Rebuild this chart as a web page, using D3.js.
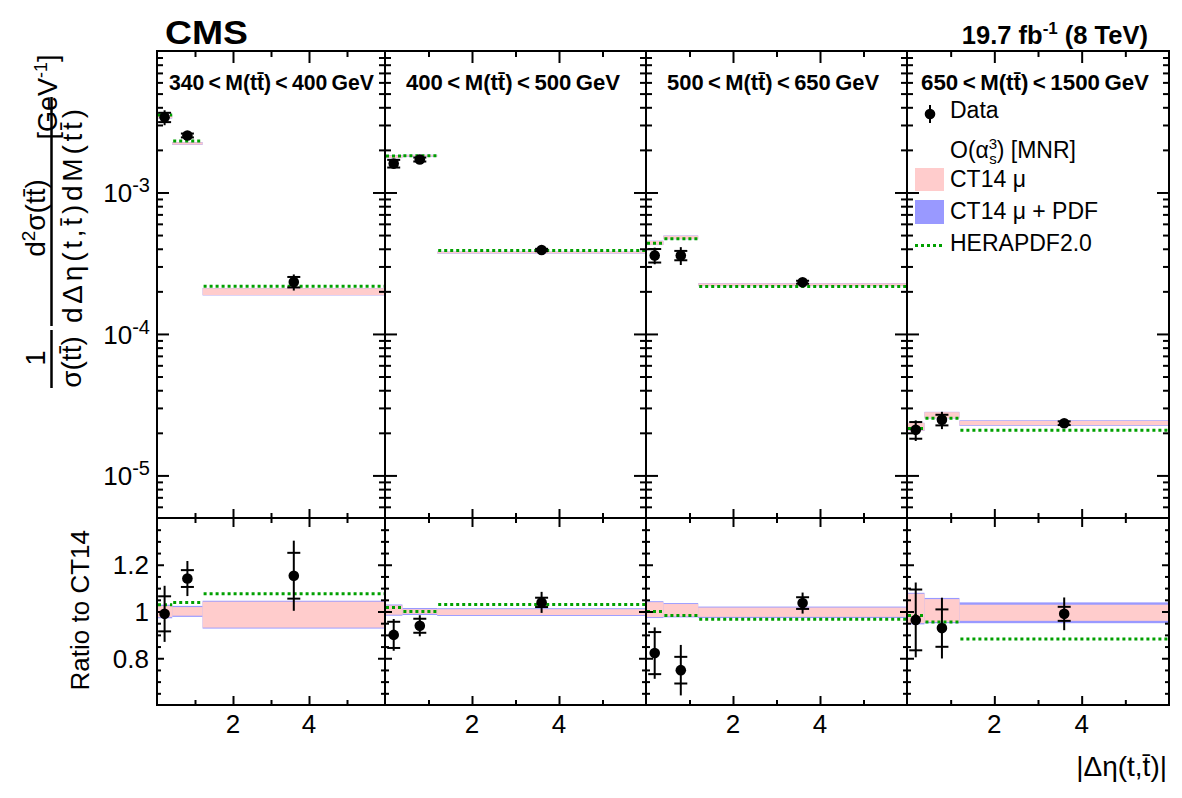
<!DOCTYPE html>
<html lang="en">
<head>
<meta charset="UTF-8">
<title>CMS double differential</title>
<style>
  body { margin: 0; background: #fff; }
  svg text { font-family: "Liberation Sans", Arial, Helvetica, sans-serif; fill: #000; }
</style>
</head>
<body>
<svg id="svg" width="1182" height="798"></svg>
<script src="https://d3js.org/d3.v7.min.js"></script>
<script>
// |Δη(t,t̄)| binning
const etaEdges = [0, 0.4, 1.2, 6]
const etaCenters = [0.2, 0.8, 3.6]

// M(tt̄) bins, one per panel
const massLow = ['340', '400', '500', '650']
const massHigh = ['400', '500', '650', '1500']

// CT14 central prediction (GeV^-1)
const ct14Central = [
  [3.43e-3, 2.22e-3, 2.02e-4],
  [1.78e-3, 1.82e-3, 3.77e-4],
  [4.37e-4, 4.79e-4, 2.24e-4],
  [2.18e-5, 2.66e-5, 2.36e-5]
]
// scale band (ratio to CT14)
const scaleLo = [[0.976, 0.982, 0.931], [0.986, 0.990, 0.985], [0.976, 0.979, 0.977], [0.950, 0.955, 0.960]]
const scaleHi = [[1.024, 1.019, 1.042], [1.026, 1.010, 1.010], [1.040, 1.032, 1.017], [1.076, 1.053, 1.029]]
// scale + PDF band (ratio to CT14)
const pdfLo = [[0.971, 0.977, 0.927], [0.982, 0.985, 0.981], [0.972, 0.975, 0.972], [0.945, 0.950, 0.950]]
const pdfHi = [[1.029, 1.024, 1.046], [1.030, 1.015, 1.014], [1.044, 1.036, 1.021], [1.080, 1.058, 1.039]]
// HERAPDF2.0 (ratio to CT14)
const heraRatio = [[1.029, 1.039, 1.076], [1.017, 1.000, 1.030], [1.000, 0.983, 0.967], [0.983, 0.955, 0.882]]

// measured cross sections
const dataXsec = [
  [3.40e-3, 2.53e-3, 2.33e-4],
  [1.60e-3, 1.71e-3, 3.92e-4],
  [3.59e-4, 3.59e-4, 2.32e-4],
  [2.10e-5, 2.47e-5, 2.34e-5]
]
const dataRatio = [[0.990, 1.141, 1.153], [0.900, 0.939, 1.039], [0.822, 0.749, 1.036], [0.964, 0.929, 0.990]]
const dataStat = [[0.075, 0.036, 0.098], [0.056, 0.030, 0.020], [0.090, 0.057, 0.025], [0.130, 0.080, 0.030]]
const dataTotal = [[0.120, 0.075, 0.150], [0.068, 0.045, 0.045], [0.110, 0.108, 0.045], [0.160, 0.130, 0.070]]

const xTicksMajor = [2, 4]
const xTicksMinor = [1, 3, 5]
const logLabels = [[1e-3, '-3'], [1e-4, '-4'], [1e-5, '-5']]
const ratioLabels = [[1.2, '1.2'], [1, '1'], [0.8, '0.8']]

// layout
const panelX = [157, 385, 646, 907, 1169]
const padTop = 51, padSplit = 518, padBottom = 705
const PINK = '#ffcccc', BLUE = '#9999ff', GREEN = '#00a000'

const svg = d3.select('#svg')

const yLog = d3.scaleLog().domain([5e-6, 1e-2]).range([padSplit, padTop])
const yRat = d3.scaleLinear().domain([0.6, 1.4]).range([padBottom, padSplit])

// tick positions
const logMajor = [1e-5, 1e-4, 1e-3]
const logMinor = []
for (let d = -6; d <= -3; d++) {
  for (let m = 2; m <= 9; m++) {
    const v = m * Math.pow(10, d)
    if (v >= 5e-6 && v < 1e-2) logMinor.push(v)
  }
}
const ratMajor = [0.8, 1.0, 1.2]
const ratMinor = d3.range(13, 28).map(k => k * 0.05).filter(v => ![0.8, 1.0, 1.2].some(m => Math.abs(m - v) < 1e-6))

function tickSet(g, axisFn, scale, values, size, tx, ty) {
  g.append('g')
    .attr('transform', `translate(${tx},${ty})`)
    .call(axisFn(scale).tickValues(values).tickSize(size).tickFormat(''))
    .call(s => s.select('.domain').remove())
    .selectAll('line').attr('stroke', '#000').attr('stroke-width', 2)
}

function drawBands(g, x, ys, lo, hi, color, scaleBy) {
  g.selectAll(null)
    .data(d3.range(3))
    .enter()
    .append('rect')
    .attr('x', i => x(etaEdges[i]))
    .attr('width', i => x(etaEdges[i + 1]) - x(etaEdges[i]))
    .attr('y', i => ys(hi[i] * scaleBy[i]))
    .attr('height', i => ys(lo[i] * scaleBy[i]) - ys(hi[i] * scaleBy[i]))
    .attr('fill', color)
}

function drawHera(g, x, ys, vals, scaleBy) {
  g.selectAll(null)
    .data(d3.range(3))
    .enter()
    .append('line')
    .attr('x1', i => x(etaEdges[i]) + 1)
    .attr('x2', i => x(etaEdges[i + 1]))
    .attr('y1', i => ys(vals[i] * scaleBy[i]))
    .attr('y2', i => ys(vals[i] * scaleBy[i]))
    .attr('stroke', GREEN)
    .attr('stroke-width', 3)
    .attr('stroke-dasharray', '3,3')
}

function drawData(g, x, ys, val, stat, tot) {
  const pts = d3.range(3).map(i => ({
    x: x(etaCenters[i]), v: val[i],
    sLo: val[i] - stat[i], sHi: val[i] + stat[i],
    tLo: val[i] - tot[i], tHi: val[i] + tot[i]
  }))
  g.selectAll(null).data(pts).enter().append('line')
    .attr('x1', d => d.x).attr('x2', d => d.x)
    .attr('y1', d => ys(d.tHi)).attr('y2', d => ys(d.tLo))
    .attr('stroke', '#000').attr('stroke-width', 2)
  ;['sLo', 'sHi'].forEach(k => {
    g.selectAll(null).data(pts).enter().append('line')
      .attr('x1', d => d.x - 6.5).attr('x2', d => d.x + 6.5)
      .attr('y1', d => ys(d[k])).attr('y2', d => ys(d[k]))
      .attr('stroke', '#000').attr('stroke-width', 2)
  })
  g.selectAll(null).data(pts).enter().append('circle')
    .attr('cx', d => d.x).attr('cy', d => ys(d.v)).attr('r', 5.3)
    .attr('fill', '#000')
}

for (let p = 0; p < 4; p++) {
  const x0 = panelX[p], x1 = panelX[p + 1]
  const x = d3.scaleLinear().domain([0, 6]).range([x0, x1])
  const g = svg.append('g')
  const central = ct14Central[p]
  const ones = [1, 1, 1]

  // upper pad
  drawBands(g, x, yLog, pdfLo[p], pdfHi[p], BLUE, central)
  drawBands(g, x, yLog, scaleLo[p], scaleHi[p], PINK, central)
  drawHera(g, x, yLog, heraRatio[p], central)
  const relStat = dataStat[p].map((s, i) => s / dataRatio[p][i] * dataXsec[p][i])
  const relTot = dataTotal[p].map((s, i) => s / dataRatio[p][i] * dataXsec[p][i])
  drawData(g, x, yLog, dataXsec[p], relStat, relTot)

  // ratio pad
  drawBands(g, x, yRat, pdfLo[p], pdfHi[p], BLUE, ones)
  drawBands(g, x, yRat, scaleLo[p], scaleHi[p], PINK, ones)
  drawHera(g, x, yRat, heraRatio[p], ones)
  drawData(g, x, yRat, dataRatio[p], dataStat[p], dataTotal[p])

  // x ticks
  tickSet(g, d3.axisBottom, x, xTicksMajor, 12, 0, padTop)
  tickSet(g, d3.axisBottom, x, xTicksMinor, 6, 0, padTop)
  tickSet(g, d3.axisTop, x, xTicksMajor, 9, 0, padSplit)
  tickSet(g, d3.axisTop, x, xTicksMinor, 5, 0, padSplit)
  tickSet(g, d3.axisBottom, x, xTicksMajor, 9, 0, padSplit)
  tickSet(g, d3.axisBottom, x, xTicksMinor, 5, 0, padSplit)
  tickSet(g, d3.axisTop, x, xTicksMajor, 9, 0, padBottom)
  tickSet(g, d3.axisTop, x, xTicksMinor, 5, 0, padBottom)

  // y ticks, both sides of each pad
  tickSet(g, d3.axisRight, yLog, logMajor, 12, x0, 0)
  tickSet(g, d3.axisRight, yLog, logMinor, 6, x0, 0)
  tickSet(g, d3.axisLeft, yLog, logMajor, 12, x1, 0)
  tickSet(g, d3.axisLeft, yLog, logMinor, 6, x1, 0)
  tickSet(g, d3.axisRight, yRat, ratMajor, 7, x0, 0)
  tickSet(g, d3.axisRight, yRat, ratMinor, 4, x0, 0)
  tickSet(g, d3.axisLeft, yRat, ratMajor, 7, x1, 0)
  tickSet(g, d3.axisLeft, yRat, ratMinor, 4, x1, 0)

  // frames
  g.append('rect').attr('x', x0).attr('y', padTop).attr('width', x1 - x0).attr('height', padSplit - padTop)
    .attr('fill', 'none').attr('stroke', '#000').attr('stroke-width', 2)
  g.append('rect').attr('x', x0).attr('y', padSplit).attr('width', x1 - x0).attr('height', padBottom - padSplit)
    .attr('fill', 'none').attr('stroke', '#000').attr('stroke-width', 2)

  // x tick labels
  g.selectAll(null).data(xTicksMajor).enter().append('text')
    .attr('x', d => x(d)).attr('y', 733)
    .attr('text-anchor', 'middle').attr('font-size', 26)
    .text(d => d)

  // mass bin label
  g.append('text')
    .attr('x', x0 + [12, 21, 21, 14][p]).attr('y', 90)
    .attr('font-size', 22).attr('font-weight', 'bold')
    .attr('textLength', [205, 214, 212, 228][p]).attr('lengthAdjust', 'spacingAndGlyphs')
    .text(`${massLow[p]}\u2009<\u2009M(tt\u0304)\u2009<\u2009${massHigh[p]}\u2009GeV`)
}

// y tick labels
logLabels.forEach(([v, e]) => {
  const t = svg.append('text').attr('x', 150).attr('y', yLog(v) + 10)
    .attr('text-anchor', 'end').attr('font-size', 26)
  t.append('tspan').text('10')
  t.append('tspan').attr('dy', -10).attr('font-size', 20).text(e)
})
ratioLabels.forEach(([v, s]) => {
  svg.append('text').attr('x', 149).attr('y', yRat(v) + 9.5)
    .attr('text-anchor', 'end').attr('font-size', 26).text(s)
})

// header
svg.append('text').attr('x', 165).attr('y', 43.5)
  .attr('font-size', 34).attr('font-weight', 'bold')
  .attr('textLength', 83).attr('lengthAdjust', 'spacingAndGlyphs').text('CMS')
const lumi = svg.append('text').attr('x', 1148).attr('y', 44)
  .attr('text-anchor', 'end').attr('font-size', 25.5).attr('font-weight', 'bold')
lumi.append('tspan').text('19.7 fb')
lumi.append('tspan').attr('dy', -10).attr('font-size', 17).text('-1')
lumi.append('tspan').attr('dy', 10).text(' (8 TeV)')

// y title, upper pad
function rotText(xb, yc, size) {
  return svg.append('text')
    .attr('transform', `translate(${xb},${yc}) rotate(-90)`)
    .attr('text-anchor', 'middle').attr('font-size', size)
}
rotText(45, 358, 27).text('1')
svg.append('line').attr('x1', 51.5).attr('x2', 51.5).attr('y1', 330).attr('y2', 388)
  .attr('stroke', '#000').attr('stroke-width', 2.5)
rotText(81, 362, 28).text('σ(tt\u0304)')
svg.append('line').attr('x1', 51.5).attr('x2', 51.5).attr('y1', 97).attr('y2', 326)
  .attr('stroke', '#000').attr('stroke-width', 2.5)
const num = rotText(45, 218, 28)
num.append('tspan').text('d')
num.append('tspan').attr('dy', -10).attr('font-size', 19).text('2')
num.append('tspan').attr('dy', 10).text('σ(tt\u0304)')
rotText(82, 216, 28).attr('textLength', 214).attr('lengthAdjust', 'spacing').text('dΔη(t,t\u0304)dM(tt\u0304)')
const unit = rotText(57, 97, 27)
unit.append('tspan').text('[GeV')
unit.append('tspan').attr('dy', -10).attr('font-size', 18).text('-1')
unit.append('tspan').attr('dy', 10).text(']')

// y title, ratio pad
svg.append('text')
  .attr('transform', 'translate(89,530) rotate(-90)')
  .attr('text-anchor', 'end').attr('font-size', 26).text('Ratio to CT14')

// x title
svg.append('text').attr('x', 1167).attr('y', 776)
  .attr('text-anchor', 'end').attr('font-size', 28).text('|Δη(t,t\u0304)|')

// legend
const leg = svg.append('g')
leg.append('line').attr('x1', 930).attr('x2', 930).attr('y1', 105).attr('y2', 123)
  .attr('stroke', '#000').attr('stroke-width', 2)
leg.append('circle').attr('cx', 930).attr('cy', 114).attr('r', 5.3).attr('fill', '#000')
leg.append('text').attr('x', 950).attr('y', 118).attr('font-size', 23).text('Data')
const mnr = leg.append('text').attr('x', 950).attr('y', 158).attr('font-size', 23)
mnr.append('tspan').text('O(α')
mnr.append('tspan').attr('dy', -9).attr('font-size', 15).text('3')
mnr.append('tspan').attr('dx', -8).attr('dy', 15).attr('font-size', 15).text('s')
mnr.append('tspan').attr('dy', -6).text(') [MNR]')
leg.append('rect').attr('x', 915).attr('y', 168).attr('width', 29).attr('height', 23).attr('fill', PINK)
leg.append('text').attr('x', 950).attr('y', 186.5).attr('font-size', 23).text('CT14 μ')
leg.append('rect').attr('x', 915).attr('y', 200).attr('width', 29).attr('height', 24).attr('fill', BLUE)
leg.append('text').attr('x', 950).attr('y', 219).attr('font-size', 23).text('CT14 μ + PDF')
leg.append('line').attr('x1', 915).attr('x2', 943).attr('y1', 245.5).attr('y2', 245.5)
  .attr('stroke', GREEN).attr('stroke-width', 3).attr('stroke-dasharray', '3,3')
leg.append('text').attr('x', 950).attr('y', 250.5).attr('font-size', 23).text('HERAPDF2.0')
</script>
</body>
</html>
